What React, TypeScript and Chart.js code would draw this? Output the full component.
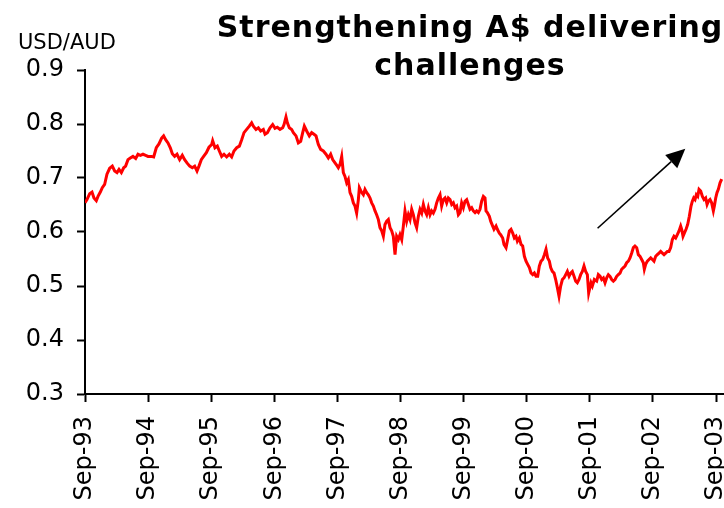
import { useEffect, useRef } from "react";
import { Chart, registerables } from "chart.js";

Chart.register(...registerables);

// Decimal-year dates (Sep-93 = 1993.667)
const dates = [
  1993.667, 1993.698, 1993.741, 1993.778, 1993.809, 1993.846, 1993.873, 1993.91, 1993.941, 1993.978,
  1994.015, 1994.058, 1994.1, 1994.137, 1994.174, 1994.206, 1994.243, 1994.28, 1994.311, 1994.348,
  1994.385, 1994.427, 1994.47, 1994.507, 1994.544, 1994.586, 1994.628, 1994.665, 1994.718, 1994.755,
  1994.797, 1994.839, 1994.882, 1994.913, 1994.945, 1994.982, 1995.019, 1995.051, 1995.088, 1995.125,
  1995.167, 1995.209, 1995.246, 1995.283, 1995.326, 1995.368, 1995.405, 1995.442, 1995.473, 1995.51,
  1995.547, 1995.59, 1995.632, 1995.674,
  1995.69, 1995.727, 1995.764, 1995.796, 1995.833, 1995.87, 1995.912, 1995.954, 1995.991, 1996.028,
  1996.071, 1996.113, 1996.15, 1996.187, 1996.229, 1996.271, 1996.308, 1996.335, 1996.377, 1996.414,
  1996.451, 1996.493, 1996.52, 1996.557, 1996.599, 1996.641, 1996.678, 1996.715, 1996.757, 1996.8,
  1996.821, 1996.852, 1996.874, 1996.905, 1996.942, 1996.969, 1997.011, 1997.048, 1997.085, 1997.117,
  1997.143, 1997.18, 1997.222, 1997.259, 1997.296, 1997.328, 1997.365, 1997.402, 1997.444, 1997.486,
  1997.523, 1997.56, 1997.592, 1997.629, 1997.666,
  1997.682, 1997.708, 1997.735, 1997.761, 1997.787, 1997.814, 1997.84, 1997.867, 1997.893, 1997.92,
  1997.946, 1997.972, 1997.999, 1998.015, 1998.052, 1998.078, 1998.104, 1998.131, 1998.157, 1998.184,
  1998.21, 1998.237, 1998.263, 1998.289, 1998.316, 1998.342, 1998.369, 1998.395, 1998.421, 1998.448,
  1998.474, 1998.501, 1998.527, 1998.553, 1998.58, 1998.606, 1998.633, 1998.659, 1998.686, 1998.712,
  1998.738, 1998.765, 1998.791, 1998.818, 1998.844, 1998.87, 1998.897, 1998.923, 1998.95, 1998.976,
  1999.003, 1999.029, 1999.055, 1999.082, 1999.108, 1999.135, 1999.161, 1999.187, 1999.214, 1999.24,
  1999.267, 1999.293, 1999.319, 1999.346, 1999.372, 1999.399, 1999.425, 1999.452, 1999.478, 1999.504,
  1999.531, 1999.557, 1999.584,
  1999.61, 1999.636, 1999.663, 1999.689, 1999.716, 1999.742, 1999.768, 1999.795, 1999.821, 1999.848,
  1999.874, 1999.901, 1999.927, 1999.953, 1999.98, 2000.006, 2000.022, 2000.043, 2000.075, 2000.096,
  2000.128, 2000.149, 2000.181, 2000.202, 2000.233, 2000.254, 2000.286, 2000.307, 2000.339, 2000.36,
  2000.392, 2000.418, 2000.445, 2000.471, 2000.497, 2000.519, 2000.55, 2000.577, 2000.603, 2000.63,
  2000.656, 2000.682, 2000.709, 2000.735, 2000.762, 2000.788, 2000.814, 2000.841, 2000.867, 2000.894,
  2000.92, 2000.947, 2000.973, 2000.999, 2001.026, 2001.047, 2001.073, 2001.1, 2001.126, 2001.153,
  2001.179, 2001.205, 2001.232, 2001.258, 2001.285, 2001.311, 2001.338, 2001.364, 2001.39, 2001.417,
  2001.443, 2001.469, 2001.496, 2001.522, 2001.549, 2001.575, 2001.601, 2001.628, 2001.649,
  2001.686, 2001.707, 2001.739, 2001.776, 2001.802, 2001.829, 2001.855, 2001.882, 2001.908, 2001.934,
  2001.961, 2001.987, 2002.014, 2002.04, 2002.066, 2002.093, 2002.119, 2002.146, 2002.172, 2002.199,
  2002.225, 2002.251, 2002.278, 2002.304, 2002.331, 2002.357, 2002.383, 2002.41, 2002.436, 2002.463,
  2002.489, 2002.515, 2002.531, 2002.552, 2002.579, 2002.605, 2002.632, 2002.658, 2002.684, 2002.711,
  2002.737, 2002.764, 2002.79, 2002.817, 2002.843, 2002.869, 2002.896, 2002.922, 2002.949, 2002.975,
  2003.001, 2003.028, 2003.054, 2003.081, 2003.107, 2003.123, 2003.144, 2003.165, 2003.192, 2003.218,
  2003.244, 2003.271, 2003.292, 2003.313, 2003.334, 2003.355, 2003.377, 2003.398, 2003.424, 2003.451,
  2003.477, 2003.503, 2003.525, 2003.546, 2003.572, 2003.598, 2003.625, 2003.641, 2003.662, 2003.683,
  2003.704, 2003.731, 2003.757,
];

// USD per AUD
const usdAud = [
  0.654, 0.66, 0.671, 0.674, 0.663, 0.658, 0.666, 0.674, 0.682, 0.688,
  0.707, 0.718, 0.722, 0.713, 0.71, 0.716, 0.71, 0.719, 0.722, 0.734,
  0.737, 0.74, 0.736, 0.744, 0.742, 0.744, 0.742, 0.74, 0.74, 0.739,
  0.756, 0.763, 0.774, 0.778, 0.771, 0.765, 0.756, 0.745, 0.74, 0.744,
  0.734, 0.742, 0.734, 0.728, 0.722, 0.719, 0.722, 0.713, 0.722, 0.734,
  0.74, 0.747, 0.757, 0.762,
  0.769, 0.756, 0.759, 0.75, 0.74, 0.744, 0.739, 0.744, 0.739, 0.75,
  0.756, 0.759, 0.771, 0.784, 0.79, 0.796, 0.802, 0.796, 0.79, 0.793,
  0.787, 0.79, 0.781, 0.784, 0.793, 0.799, 0.792, 0.794, 0.79, 0.793,
  0.799, 0.813, 0.802, 0.793, 0.79, 0.784, 0.778, 0.765, 0.768, 0.784,
  0.796, 0.787, 0.778, 0.784, 0.781, 0.778, 0.762, 0.753, 0.75, 0.744,
  0.737, 0.744, 0.734, 0.728, 0.722,
  0.719, 0.725, 0.74, 0.71, 0.703, 0.691, 0.697, 0.673, 0.666, 0.654,
  0.648, 0.635, 0.66, 0.682, 0.673, 0.669, 0.679, 0.673, 0.669, 0.663,
  0.654, 0.648, 0.639, 0.632, 0.623, 0.608, 0.602, 0.592, 0.614, 0.62,
  0.623, 0.608, 0.602, 0.592, 0.558, 0.592, 0.586, 0.595, 0.586, 0.611,
  0.639, 0.62, 0.632, 0.623, 0.642, 0.632, 0.617, 0.608, 0.629, 0.642,
  0.635, 0.651, 0.639, 0.632, 0.645, 0.632, 0.639, 0.635, 0.642, 0.654,
  0.663, 0.669, 0.648, 0.66, 0.663, 0.654, 0.663, 0.66, 0.651, 0.654,
  0.645, 0.648, 0.632,
  0.636, 0.654, 0.645, 0.657, 0.66, 0.651, 0.642, 0.645, 0.639, 0.636,
  0.639, 0.636, 0.642, 0.657, 0.666, 0.663, 0.639, 0.636, 0.629, 0.62,
  0.611, 0.605, 0.611, 0.605, 0.598, 0.595, 0.589, 0.577, 0.571, 0.583,
  0.602, 0.605, 0.598, 0.589, 0.592, 0.583, 0.589, 0.577, 0.574, 0.555,
  0.546, 0.54, 0.534, 0.524, 0.521, 0.524, 0.518, 0.518, 0.537, 0.546,
  0.549, 0.558, 0.568, 0.552, 0.546, 0.534, 0.527, 0.524, 0.512, 0.497,
  0.481, 0.5, 0.512, 0.515, 0.521, 0.527, 0.518, 0.524, 0.527, 0.518,
  0.509, 0.506, 0.512, 0.521, 0.527, 0.537, 0.527, 0.521, 0.487,
  0.506, 0.5, 0.512, 0.509, 0.521, 0.518, 0.512, 0.515, 0.506, 0.515,
  0.521, 0.518, 0.512, 0.509, 0.512, 0.518, 0.521, 0.524, 0.531, 0.534,
  0.537, 0.543, 0.546, 0.552, 0.561, 0.571, 0.574, 0.571, 0.558, 0.555,
  0.549, 0.543, 0.531, 0.54, 0.546, 0.549, 0.552, 0.549, 0.546, 0.555,
  0.558, 0.561, 0.564, 0.561, 0.558, 0.561, 0.564, 0.564, 0.571, 0.586,
  0.592, 0.589, 0.595, 0.602, 0.611, 0.605, 0.592, 0.598, 0.605, 0.614,
  0.629, 0.648, 0.657, 0.663, 0.66, 0.669, 0.666, 0.679, 0.676, 0.666,
  0.66, 0.663, 0.651, 0.657, 0.66, 0.654, 0.639, 0.648, 0.663, 0.673,
  0.679, 0.691, 0.698,
];

const xTickLabels = [
  "Sep-93", "Sep-94", "Sep-95", "Sep-96", "Sep-97", "Sep-98",
  "Sep-99", "Sep-00", "Sep-01", "Sep-02", "Sep-03",
];
const xTickValues = [
  1993.667, 1994.667, 1995.667, 1996.667, 1997.667, 1998.667,
  1999.667, 2000.667, 2001.667, 2002.667, 2003.667,
];
const X_MIN = 1993.667;
const X_MAX = 2004.364;
const Y_MIN = 0.3;
const Y_MAX = 0.9;
const Y_STEP = 0.1;

const titleLines = ["Strengthening A$ delivering", "challenges"];
const yAxisTitle = "USD/AUD";
const arrowFrom = { x: 2001.79, y: 0.607 };
const arrowTo = { x: 2003.18, y: 0.754 };

const FONT = '"DejaVu Sans", Verdana, sans-serif';

const annotationPlugin = {
  id: "annotations",
  afterDraw(chart: any) {
    const ctx = chart.ctx as CanvasRenderingContext2D;
    const xs = chart.scales.x;
    const ys = chart.scales.y;
    ctx.save();
    ctx.fillStyle = "#000";
    ctx.textBaseline = "alphabetic";

    // title
    (ctx as any).letterSpacing = "1px";
    ctx.font = `bold 30px ${FONT}`;
    ctx.textAlign = "center";
    ctx.fillText(titleLines[0], 470, 37);
    ctx.fillText(titleLines[1], 470, 75);

    // y axis caption
    (ctx as any).letterSpacing = "0px";
    ctx.font = `21px ${FONT}`;
    ctx.textAlign = "left";
    ctx.fillText(yAxisTitle, 18, 49);

    // arrow
    const x1 = xs.getPixelForValue(arrowFrom.x);
    const y1 = ys.getPixelForValue(arrowFrom.y);
    const x2 = xs.getPixelForValue(arrowTo.x);
    const y2 = ys.getPixelForValue(arrowTo.y);
    const ang = Math.atan2(y2 - y1, x2 - x1);
    const headLen = 19;
    const headW = 9;
    const bx = x2 - headLen * Math.cos(ang);
    const by = y2 - headLen * Math.sin(ang);
    ctx.strokeStyle = "#000";
    ctx.lineWidth = 1.6;
    ctx.beginPath();
    ctx.moveTo(x1, y1);
    ctx.lineTo(bx, by);
    ctx.stroke();
    ctx.beginPath();
    ctx.moveTo(x2, y2);
    ctx.lineTo(bx + headW * Math.sin(ang), by - headW * Math.cos(ang));
    ctx.lineTo(bx - headW * Math.sin(ang), by + headW * Math.cos(ang));
    ctx.closePath();
    ctx.fill();
    ctx.restore();
  },
};

const CANVAS_W = 780;
const CANVAS_H = 540;
const AREA_LEFT = 85;
const AREA_TOP = 70;
const AREA_BOTTOM = 394;

export default function App() {
  const ref = useRef<HTMLCanvasElement | null>(null);

  useEffect(() => {
    if (!ref.current) return;
    const chart = new Chart(ref.current, {
      type: "line",
      data: {
        datasets: [
          {
            label: yAxisTitle,
            data: dates.map((d, i) => ({ x: d, y: usdAud[i] })),
            borderColor: "#ff0000",
            borderWidth: 3,
            pointRadius: 0,
            tension: 0,
            fill: false,
          },
        ],
      },
      options: {
        animation: false,
        responsive: false,
        devicePixelRatio: 1,
        layout: { padding: { top: AREA_TOP, left: 0, right: 20, bottom: 0 } },
        plugins: {
          legend: { display: false },
          tooltip: { enabled: false },
          title: { display: false },
        },
        scales: {
          x: {
            type: "linear",
            min: X_MIN,
            max: X_MAX,
            afterBuildTicks: (scale: any) => {
              scale.ticks = xTickValues.map((v) => ({ value: v }));
            },
            afterFit: (scale: any) => {
              scale.height = CANVAS_H - AREA_BOTTOM;
            },
            grid: {
              drawOnChartArea: false,
              drawTicks: true,
              tickLength: 8,
              tickWidth: 2,
              tickColor: "#000",
            },
            border: { display: true, color: "#000", width: 2 },
            ticks: {
              autoSkip: false,
              minRotation: 90,
              maxRotation: 90,
              padding: 14,
              color: "#000",
              font: { family: FONT, size: 24 },
              callback: (_v: any, i: number) => xTickLabels[i],
            },
          },
          y: {
            type: "linear",
            min: Y_MIN,
            max: Y_MAX,
            afterFit: (scale: any) => {
              scale.width = AREA_LEFT;
            },
            grid: {
              drawOnChartArea: false,
              drawTicks: true,
              tickLength: 8,
              tickWidth: 2,
              tickColor: "#000",
            },
            border: { display: true, color: "#000", width: 2 },
            ticks: {
              stepSize: Y_STEP,
              padding: 13,
              color: "#000",
              font: { family: FONT, size: 24 },
              callback: (v: any) => Number(v).toFixed(1),
            },
          },
        },
      },
      plugins: [annotationPlugin],
    } as any);
    return () => chart.destroy();
  }, []);

  return (
    <div
      style={{
        position: "fixed",
        left: 0,
        top: 0,
        width: 724,
        height: 508,
        overflow: "hidden",
        background: "#fff",
      }}
    >
      <canvas ref={ref} width={CANVAS_W} height={CANVAS_H} style={{ display: "block" }} />
    </div>
  );
}
